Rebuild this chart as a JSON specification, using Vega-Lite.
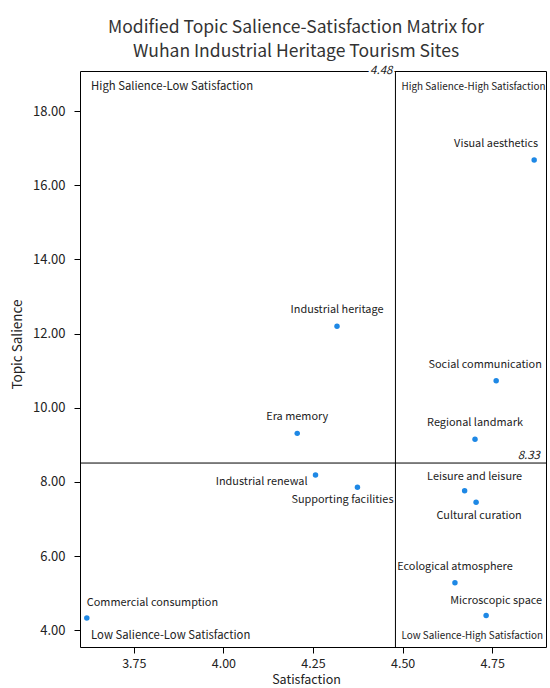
{
  "$schema": "https://vega.github.io/schema/vega-lite/v6.json",
  "width": 466,
  "height": 576,
  "autosize": "none",
  "padding": {"left": 80, "top": 71, "right": 4, "bottom": 41},
  "background": "white",
  "config": {
    "font": "Noto Sans CJK SC",
    "view": {"stroke": "#000", "strokeWidth": 1},
    "axis": {
      "grid": false,
      "domain": false,
      "tickSize": 6,
      "tickColor": "#000",
      "labelFontSize": 13,
      "labelColor": "#222",
      "titleFontSize": 12.5,
      "titleFontWeight": "normal",
      "titleColor": "#222"
    },
    "text": {"fontSize": 10.9, "color": "#222", "baseline": "middle"}
  },
  "title": {
    "text": ["Modified Topic Salience-Satisfaction Matrix for", " Wuhan Industrial Heritage Tourism Sites"],
    "fontSize": 17.5,
    "fontWeight": "normal",
    "color": "#333",
    "anchor": "middle",
    "dx": -17,
    "offset": 5,
    "lineHeight": 24
  },
  "datasets": {
    "topics": [
      {"topic": "Visual aesthetics", "sat": 4.867, "sal": 16.68},
      {"topic": "Industrial heritage", "sat": 4.317, "sal": 12.2},
      {"topic": "Social communication", "sat": 4.761, "sal": 10.73},
      {"topic": "Era memory", "sat": 4.206, "sal": 9.31},
      {"topic": "Regional landmark", "sat": 4.702, "sal": 9.15},
      {"topic": "Industrial renewal", "sat": 4.257, "sal": 8.19},
      {"topic": "Supporting facilities", "sat": 4.374, "sal": 7.86},
      {"topic": "Leisure and leisure", "sat": 4.673, "sal": 7.76},
      {"topic": "Cultural curation", "sat": 4.705, "sal": 7.45},
      {"topic": "Ecological atmosphere", "sat": 4.646, "sal": 5.28},
      {"topic": "Microscopic space", "sat": 4.733, "sal": 4.4},
      {"topic": "Commercial consumption", "sat": 3.619, "sal": 4.33}
    ],
    "quadrants": [
      {"quadrant": "High Salience-Low Satisfaction", "side": "left", "sat": 3.631, "sal": 18.66},
      {"quadrant": "High Salience-High Satisfaction", "side": "right", "sat": 4.497, "sal": 18.66},
      {"quadrant": "Low Salience-Low Satisfaction", "side": "left", "sat": 3.631, "sal": 3.86},
      {"quadrant": "Low Salience-High Satisfaction", "side": "right", "sat": 4.497, "sal": 3.86}
    ],
    "cutX": [{"sat": 4.48, "sal": 19.08, "label": "4.48"}],
    "cutY": [{"sat": 4.9, "sal": 8.51, "label": "8.33"}]
  },
  "layer": [
    {
      "data": {"name": "cutX"},
      "mark": {"type": "rule", "color": "#000", "strokeWidth": 1},
      "encoding": {
        "x": {"field": "sat", "type": "quantitative", "scale": {"domain": [3.6, 4.9], "nice": false, "zero": false}}
      }
    },
    {
      "data": {"name": "cutY"},
      "mark": {"type": "rule", "color": "#000", "strokeWidth": 1},
      "encoding": {
        "y": {"field": "sal", "type": "quantitative", "scale": {"domain": [3.55, 19.08], "nice": false, "zero": false}}
      }
    },
    {
      "data": {"name": "cutX"},
      "mark": {"type": "text", "align": "right", "dx": -3, "fontStyle": "italic", "fontSize": 11.5, "stroke": "white", "strokeWidth": 4},
      "encoding": {
        "x": {"field": "sat", "type": "quantitative"},
        "y": {"field": "sal", "type": "quantitative"},
        "text": {"field": "label"}
      }
    },
    {
      "data": {"name": "cutX"},
      "mark": {"type": "text", "align": "right", "dx": -3, "fontStyle": "italic", "fontSize": 11.5},
      "encoding": {
        "x": {"field": "sat", "type": "quantitative"},
        "y": {"field": "sal", "type": "quantitative"},
        "text": {"field": "label"}
      }
    },
    {
      "data": {"name": "cutY"},
      "mark": {"type": "text", "align": "right", "baseline": "bottom", "dx": -6, "dy": -2, "fontStyle": "italic", "fontSize": 11.5},
      "encoding": {
        "x": {"field": "sat", "type": "quantitative"},
        "y": {"field": "sal", "type": "quantitative"},
        "text": {"field": "label"}
      }
    },
    {
      "data": {"name": "quadrants"},
      "transform": [{"filter": "datum.side == 'left'"}],
      "mark": {"type": "text", "align": "left", "fontSize": 11.3},
      "encoding": {
        "x": {"field": "sat", "type": "quantitative"},
        "y": {"field": "sal", "type": "quantitative"},
        "text": {"field": "quadrant"}
      }
    },
    {
      "data": {"name": "quadrants"},
      "transform": [{"filter": "datum.side == 'right'"}],
      "mark": {"type": "text", "align": "left", "fontSize": 9.9},
      "encoding": {
        "x": {"field": "sat", "type": "quantitative"},
        "y": {"field": "sal", "type": "quantitative"},
        "text": {"field": "quadrant"}
      }
    },
    {
      "data": {"name": "topics"},
      "mark": {"type": "circle", "size": 30, "color": "#1e88e5", "opacity": 1},
      "encoding": {
        "x": {"field": "sat", "type": "quantitative", "title": "Satisfaction", "scale": {"domain": [3.6, 4.9], "nice": false, "zero": false}, "axis": {"values": [3.75, 4, 4.25, 4.5, 4.75], "format": ".2f", "labelFontSize": 12.5, "labelPadding": 4, "titlePadding": 4, "titleX": 226}},
        "y": {"field": "sal", "type": "quantitative", "title": "Topic Salience", "scale": {"domain": [3.55, 19.08], "nice": false, "zero": false}, "axis": {"values": [4, 6, 8, 10, 12, 14, 16, 18], "format": ".2f", "labelPadding": 9, "titlePadding": 8, "titleFontSize": 13.5, "titleY": 273}}
      }
    },
    {
      "data": {"name": "topics"},
      "transform": [{"filter": {"field": "topic", "oneOf": ["Industrial heritage", "Era memory", "Regional landmark", "Ecological atmosphere"]}}],
      "mark": {"type": "text", "dy": -16},
      "encoding": {
        "x": {"field": "sat", "type": "quantitative"},
        "y": {"field": "sal", "type": "quantitative"},
        "text": {"field": "topic"}
      }
    },
    {
      "data": {"name": "topics"},
      "transform": [{"filter": "datum.topic == 'Social communication'"}],
      "mark": {"type": "text", "dx": -11, "dy": -16},
      "encoding": {
        "x": {"field": "sat", "type": "quantitative"},
        "y": {"field": "sal", "type": "quantitative"},
        "text": {"field": "topic"}
      }
    },
    {
      "data": {"name": "topics"},
      "transform": [{"filter": {"field": "topic", "oneOf": ["Leisure and leisure", "Microscopic space"]}}],
      "mark": {"type": "text", "dx": 10, "dy": -14},
      "encoding": {
        "x": {"field": "sat", "type": "quantitative"},
        "y": {"field": "sal", "type": "quantitative"},
        "text": {"field": "topic"}
      }
    },
    {
      "data": {"name": "topics"},
      "transform": [{"filter": "datum.topic == 'Visual aesthetics'"}],
      "mark": {"type": "text", "align": "right", "dx": 4, "dy": -16},
      "encoding": {
        "x": {"field": "sat", "type": "quantitative"},
        "y": {"field": "sal", "type": "quantitative"},
        "text": {"field": "topic"}
      }
    },
    {
      "data": {"name": "topics"},
      "transform": [{"filter": "datum.topic == 'Commercial consumption'"}],
      "mark": {"type": "text", "align": "left", "dx": 0, "dy": -15},
      "encoding": {
        "x": {"field": "sat", "type": "quantitative"},
        "y": {"field": "sal", "type": "quantitative"},
        "text": {"field": "topic"}
      }
    },
    {
      "data": {"name": "topics"},
      "transform": [{"filter": "datum.topic == 'Industrial renewal'"}],
      "mark": {"type": "text", "align": "right", "dx": -8, "dy": 7},
      "encoding": {
        "x": {"field": "sat", "type": "quantitative"},
        "y": {"field": "sal", "type": "quantitative"},
        "text": {"field": "topic"}
      }
    },
    {
      "data": {"name": "topics"},
      "transform": [{"filter": "datum.topic == 'Supporting facilities'"}],
      "mark": {"type": "text", "dx": -15, "dy": 13},
      "encoding": {
        "x": {"field": "sat", "type": "quantitative"},
        "y": {"field": "sal", "type": "quantitative"},
        "text": {"field": "topic"}
      }
    },
    {
      "data": {"name": "topics"},
      "transform": [{"filter": "datum.topic == 'Cultural curation'"}],
      "mark": {"type": "text", "dx": 3, "dy": 14},
      "encoding": {
        "x": {"field": "sat", "type": "quantitative"},
        "y": {"field": "sal", "type": "quantitative"},
        "text": {"field": "topic"}
      }
    }
  ]
}
